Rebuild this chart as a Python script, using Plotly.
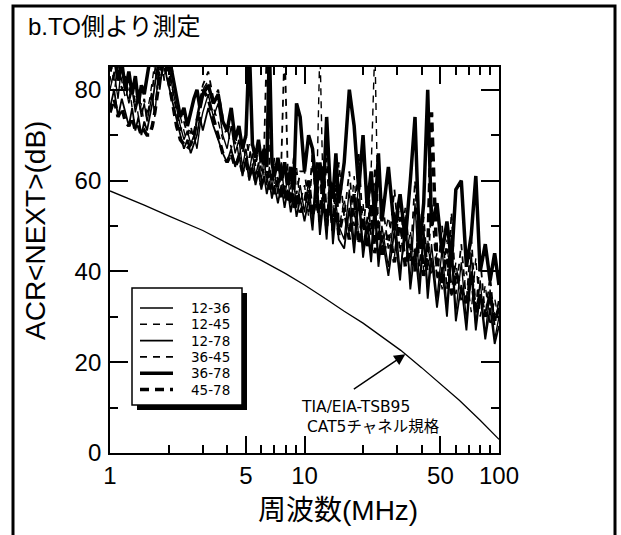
import numpy as np
import plotly.graph_objects as go

# ---------------- data ----------------
FREQ = [1.0, 1.05, 1.1, 1.15, 1.2, 1.25, 1.3, 1.35, 1.4, 1.45, 1.5, 1.55, 1.6, 1.65, 1.7, 1.75, 1.8, 1.85, 1.9, 1.95,
        2.0, 2.1, 2.2, 2.3, 2.4, 2.5, 2.6, 2.7, 2.8, 2.9, 3.0,
        3.2, 3.4, 3.6, 3.8, 4.0, 4.2, 4.4, 4.6, 4.8, 5.0, 5.2, 5.4, 5.6, 5.8, 6.0,
        6.2, 6.4, 6.6, 6.8, 7.0,
        7.3, 7.6, 7.9, 8.2, 8.5, 8.8, 9.1, 9.5,
        10, 10.5, 11, 11.5, 12, 12.5, 13, 13.5, 14, 14.5, 15,
        16, 17, 18, 19, 20, 21, 22, 23, 24, 25,
        27, 29, 31, 33, 35, 37, 39, 41, 43, 45,
        48, 51, 54, 57, 60,
        64, 68, 72, 76, 80,
        85, 90, 95, 100]

ACR_12_36 = [80, 84, 78, 86, 81, 77, 80, 75, 78, 74, 77, 73, 76, 79, 74, 82, 88, 83, 87, 90,
             86, 80, 76, 72, 69, 71, 68, 70, 67, 72, 75,
             79, 74, 77, 70, 67, 72, 66, 69, 63, 67, 62, 66, 61, 64, 60,
             65, 59, 63, 58, 62,
             57, 64, 56, 61, 55, 60, 54, 59,
             53, 60, 51, 64, 50, 58, 49, 62, 48, 55, 50,
             47, 58, 46, 60, 45, 52, 44, 57, 43, 50,
             41, 53, 40, 48, 38, 55, 37, 50, 36, 46,
             34, 45, 32, 48, 31,
             42, 29, 44, 28, 38,
             26, 36, 25, 30]

ACR_12_45 = [83, 79, 86, 82, 78, 81, 76, 79, 74, 77, 72, 75, 78, 82, 86, 80, 85, 89, 84, 88,
             90, 84, 78, 74, 71, 68, 71, 69, 73, 77, 80,
             82, 76, 73, 69, 72, 67, 71, 65, 69, 64, 68, 63, 67, 62, 66,
             61, 65, 60, 64, 59,
             63, 58, 62, 57, 61, 56, 63, 55,
             59, 52, 64, 53, 90, 54, 51, 60, 50, 63, 49,
             56, 48, 61, 47, 55, 46, 62, 90, 47, 45,
             52, 43, 56, 42, 49, 41, 53, 40, 47, 39,
             44, 36, 47, 34, 42,
             33, 40, 31, 43, 30,
             37, 28, 34, 29]

ACR_12_78 = [76, 80, 74, 78, 75, 72, 76, 71, 74, 70, 73, 71, 74, 77, 81, 85, 80, 84, 88, 83,
             81, 77, 73, 70, 67, 69, 66, 68, 70, 74, 71,
             76, 72, 69, 66, 64, 67, 63, 66, 61, 65, 60, 63, 59, 62, 58,
             61, 57, 60, 56, 59,
             55, 59, 54, 58, 53, 57, 52, 56,
             51, 56, 49, 60, 48, 55, 47, 58, 46, 53, 47,
             45, 54, 44, 56, 43, 50, 42, 53, 41, 48,
             39, 49, 38, 52, 36, 45, 35, 48, 34, 43,
             32, 41, 30, 44, 29,
             37, 27, 40, 27, 35,
             25, 32, 24, 28]

ACR_36_45 = [86, 82, 85, 80, 83, 78, 81, 76, 80, 75, 78, 74, 77, 80, 84, 88, 83, 87, 82, 86,
             84, 80, 75, 71, 73, 70, 72, 69, 74, 78, 81,
             84, 78, 80, 74, 70, 74, 68, 72, 66, 70, 65, 69, 63, 68, 62,
             67, 90, 63, 60, 65,
             60, 64, 90, 62, 58, 65, 57, 62,
             62, 55, 66, 54, 61, 53, 65, 52, 60, 51, 64,
             52, 62, 50, 66, 49, 58, 48, 63, 47, 56,
             45, 58, 44, 54, 42, 60, 41, 52, 40, 55,
             38, 50, 36, 53, 35,
             46, 33, 48, 31, 43,
             30, 39, 28, 34]

ACR_36_78 = [84, 88, 82, 86, 80, 84, 79, 83, 77, 81, 79, 83, 86, 90, 85, 88, 92, 86, 90, 87,
             88, 83, 78, 74, 76, 72, 75, 78, 80, 76, 79,
             81, 77, 79, 73, 71, 76, 69, 72, 67, 70, 90, 68, 65, 69, 64,
             67, 63, 90, 64, 61,
             65, 60, 64, 59, 63, 58, 77, 74,
             62, 70, 67, 58, 64, 57, 74, 60, 56, 66, 55,
             64, 80, 72, 58, 70, 54, 62, 52, 66, 51,
             63, 49, 57, 47, 60, 74, 45, 55, 80, 50,
             55, 44, 51, 42, 58,
             60, 41, 48, 61, 40,
             46, 38, 44, 37]

ACR_45_78 = [75, 78, 74, 76, 73, 72, 74, 71, 72, 70, 71, 70, 70, 72, 75, 79, 83, 88, 90, 86,
             82, 77, 72, 69, 68, 67, 68, 70, 73, 77, 80,
             78, 74, 70, 66, 64, 66, 63, 65, 62, 64, 61, 63, 60, 62, 59,
             61, 62, 58, 61, 57,
             60, 56, 59, 55, 58, 54, 57, 53,
             55, 60, 52, 57, 51, 62, 50, 56, 49, 59, 48,
             54, 47, 57, 46, 52, 45, 55, 44, 51, 43,
             48, 42, 52, 41, 46, 40, 50, 39, 44, 75,
             41, 37, 45, 35, 40,
             36, 33, 39, 31, 35,
             30, 35, 29, 32]

STD_FREQ = [1, 1.5, 2, 3, 4, 5, 6, 8, 10, 12.5, 16, 20, 25, 31.25, 40, 50, 62.5, 80, 100]
STD_ACR = [57.7, 54.6, 52.2, 49.0, 46.2, 44.2, 42.4, 39.5, 37.0, 34.3, 31.2, 28.6, 25.7, 22.6, 18.8, 15.2, 11.6, 7.2, 3.0]

SERIES_NAMES = ["12-36", "12-45", "12-78", "36-45", "36-78", "45-78"]
SERIES_VALUES = [ACR_12_36, ACR_12_45, ACR_12_78, ACR_36_45, ACR_36_78, ACR_45_78]

X_TICKS = [1, 5, 10, 50, 100]
X_MINOR = [2, 3, 4, 6, 7, 8, 9, 20, 30, 40, 60, 70, 80, 90]

for v in SERIES_VALUES:
    assert len(v) == len(FREQ)

# ---------------- styles ----------------
STYLES = [
    dict(width=1.4, dash="solid"),
    dict(width=1.4, dash="7px,6px"),
    dict(width=1.8, dash="solid"),
    dict(width=1.8, dash="7px,6px"),
    dict(width=3.5, dash="solid"),
    dict(width=3.5, dash="9px,6px"),
]

FONT = "Liberation Sans, Arial, Noto Sans CJK JP, sans-serif"
SMALL_FONT = "DejaVu Sans, Noto Sans CJK JP, sans-serif"

fig = go.Figure()

fig.add_trace(go.Scatter(x=STD_FREQ, y=STD_ACR, mode="lines",
                         line=dict(color="black", width=1.3), showlegend=False,
                         hoverinfo="skip"))

for name, vals, st in zip(SERIES_NAMES, SERIES_VALUES, STYLES):
    fig.add_trace(go.Scatter(x=FREQ, y=vals, mode="lines", name=name, showlegend=False,
                             line=dict(color="black", width=st["width"], dash=st["dash"])))

L, R, T, B = 110, 122, 67, 82
W, H = 621, 535
pw, ph = W - L - R, H - T - B


def px(xp):
    return (xp - L) / pw


def py(yp):
    return (H - B - yp) / ph


axis_common = dict(showline=True, linecolor="black", linewidth=1.8, mirror="ticks",
                   ticks="inside", tickcolor="black", tickwidth=1.5,
                   showgrid=False, zeroline=False,
                   tickfont=dict(family=FONT, size=24, color="black"))

fig.update_xaxes(type="log", range=[0, 2], tickmode="array", tickvals=X_TICKS,
                 ticktext=[str(t) for t in X_TICKS], ticklen=17,
                 minor=dict(tickmode="array", tickvals=X_MINOR, ticklen=8, ticks="inside",
                            tickcolor="black", tickwidth=1.5, showgrid=False),
                 **axis_common)
fig.update_yaxes(range=[0, 85], tickmode="linear", tick0=0, dtick=20, ticklen=18,
                 minor=dict(dtick=10, ticklen=8, ticks="inside", tickcolor="black",
                            tickwidth=1.5, showgrid=False),
                 ticklabelstandoff=2,
                 **axis_common)

shapes = []
# outer frame
shapes.append(dict(type="rect", xref="paper", yref="paper",
                   x0=px(13), x1=px(615), y0=py(545), y1=py(6),
                   line=dict(color="black", width=3), fillcolor="rgba(0,0,0,0)", layer="below"))
# legend shadow and box
shapes.append(dict(type="rect", xref="paper", yref="paper",
                   x0=px(137), x1=px(247), y0=py(410), y1=py(293),
                   line=dict(color="black", width=0), fillcolor="black", layer="above"))
shapes.append(dict(type="rect", xref="paper", yref="paper",
                   x0=px(132), x1=px(242), y0=py(405), y1=py(288),
                   line=dict(color="black", width=1.5), fillcolor="white", layer="above"))

annotations = [
    dict(text="b.TO側より測定", xref="paper", yref="paper", x=px(26), y=py(26),
         xanchor="left", yanchor="middle", showarrow=False,
         font=dict(family=FONT, size=24, color="black")),
    dict(text="周波数(MHz)", xref="paper", yref="paper", x=px(338), y=py(510),
         xanchor="center", yanchor="middle", showarrow=False,
         font=dict(family=FONT, size=28, color="black")),
    dict(text="ACR<NEXT>(dB)", xref="paper", yref="paper", x=px(36), y=py(231),
         xanchor="center", yanchor="middle", showarrow=False, textangle=-90,
         font=dict(family=FONT, size=28, color="black")),
]

# manual legend entries
for i, (name, st) in enumerate(zip(SERIES_NAMES, STYLES)):
    yy = 308 + 16.3 * i
    shapes.append(dict(type="line", xref="paper", yref="paper",
                       x0=px(140), x1=px(173), y0=py(yy), y1=py(yy),
                       line=dict(color="black", width=st["width"], dash=st["dash"]),
                       layer="above"))
    annotations.append(dict(text=name, xref="paper", yref="paper", x=px(189), y=py(yy),
                            xanchor="left", yanchor="middle", showarrow=False,
                            font=dict(family=SMALL_FONT, size=13.5, color="black")))

head_f = 33.0
head_y = float(np.interp(np.log10(head_f), np.log10(STD_FREQ), STD_ACR))
annotations.append(dict(x=np.log10(head_f), y=head_y, xref="x", yref="y", text="",
                        showarrow=True, arrowhead=2, arrowsize=1.6, arrowwidth=1.4,
                        arrowcolor="black", ax=-53, ay=36))
annotations.append(dict(text="TIA/EIA-TSB95<br> CAT5チャネル規格", xref="paper", yref="paper",
                        x=px(299), y=py(417), xanchor="left", yanchor="middle", align="left",
                        showarrow=False,
                        font=dict(family=SMALL_FONT, size=15.5, color="black")))

fig.update_layout(
    width=W, height=H,
    margin=dict(l=L, r=R, t=T, b=B, pad=0),
    paper_bgcolor="white", plot_bgcolor="white",
    font=dict(family=FONT, color="black"),
    annotations=annotations,
    shapes=shapes,
    showlegend=False,
)

fig.write_html("out.html")
